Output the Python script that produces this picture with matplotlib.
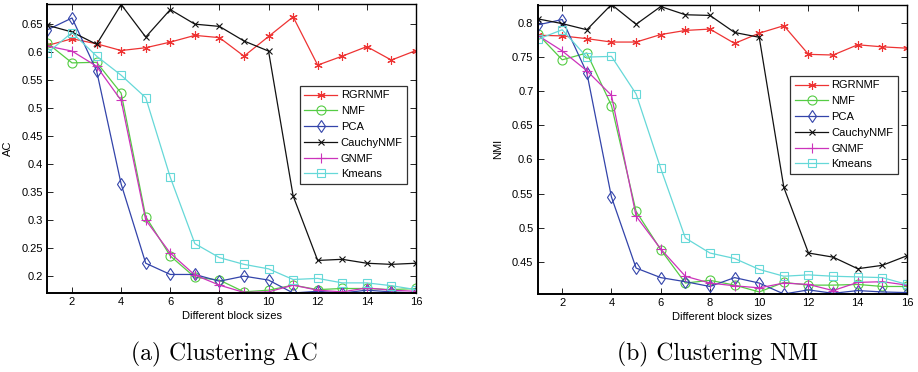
import numpy as np
import matplotlib
matplotlib.use("Agg")
import matplotlib.pyplot as plt

# block sizes on x axis
block_sizes = np.arange(1, 17)

method_names = ["RGRNMF", "NMF", "PCA", "CauchyNMF", "GNMF", "Kmeans"]

# clustering accuracy (AC)
ac_rgrnmf = [0.611, 0.623, 0.614, 0.602, 0.607, 0.617, 0.629, 0.625, 0.592, 0.627, 0.662, 0.576, 0.592, 0.609, 0.585, 0.602]
ac_nmf = [0.615, 0.580, 0.581, 0.526, 0.306, 0.236, 0.198, 0.193, 0.172, 0.175, 0.184, 0.176, 0.178, 0.178, 0.176, 0.178]
ac_pca = [0.639, 0.660, 0.566, 0.364, 0.223, 0.203, 0.203, 0.191, 0.200, 0.193, 0.170, 0.173, 0.170, 0.175, 0.172, 0.170]
ac_cauchy = [0.647, 0.635, 0.613, 0.684, 0.626, 0.675, 0.649, 0.645, 0.619, 0.601, 0.343, 0.228, 0.230, 0.223, 0.221, 0.223]
ac_gnmf = [0.610, 0.601, 0.574, 0.513, 0.300, 0.241, 0.202, 0.184, 0.171, 0.172, 0.184, 0.175, 0.172, 0.179, 0.175, 0.173]
ac_kmeans = [0.598, 0.634, 0.592, 0.558, 0.518, 0.376, 0.258, 0.233, 0.221, 0.213, 0.194, 0.196, 0.188, 0.188, 0.183, 0.176]

# normalized mutual information (NMI)
nmi_rgrnmf = [0.782, 0.781, 0.777, 0.772, 0.772, 0.783, 0.789, 0.791, 0.770, 0.785, 0.796, 0.754, 0.753, 0.768, 0.765, 0.763]
nmi_nmf = [0.784, 0.746, 0.756, 0.679, 0.524, 0.468, 0.419, 0.423, 0.416, 0.406, 0.420, 0.416, 0.416, 0.417, 0.414, 0.414]
nmi_pca = [0.797, 0.805, 0.727, 0.545, 0.441, 0.427, 0.421, 0.414, 0.427, 0.419, 0.403, 0.409, 0.404, 0.408, 0.406, 0.405]
nmi_cauchy = [0.806, 0.799, 0.790, 0.827, 0.798, 0.824, 0.812, 0.811, 0.786, 0.779, 0.559, 0.463, 0.457, 0.440, 0.445, 0.459]
nmi_gnmf = [0.782, 0.759, 0.730, 0.694, 0.517, 0.469, 0.429, 0.419, 0.415, 0.412, 0.419, 0.417, 0.408, 0.420, 0.421, 0.416]
nmi_kmeans = [0.776, 0.790, 0.750, 0.751, 0.696, 0.587, 0.485, 0.463, 0.455, 0.439, 0.429, 0.431, 0.429, 0.428, 0.427, 0.417]

xtick_vals = [2, 4, 6, 8, 10, 12, 14, 16]
ac_ticks = [0.2, 0.25, 0.3, 0.35, 0.4, 0.45, 0.5, 0.55, 0.6, 0.65]
ac_ticklabels = ["0.2", "0.25", "0.3", "0.35", "0.4", "0.45", "0.5", "0.55", "0.6", "0.65"]
nmi_ticks = [0.45, 0.5, 0.55, 0.6, 0.65, 0.7, 0.75, 0.8]
nmi_ticklabels = ["0.45", "0.5", "0.55", "0.6", "0.65", "0.7", "0.75", "0.8"]

#STYLES FOR EACH METHOD
colors = ["#ee3333", "#55cc44", "#3344aa", "#111111", "#cc33bb", "#66d8d8"]
markers = [(6, 2, 0), "o", "d", "x", "+", "s"]
msizes = [6, 6.5, 6.5, 4.5, 7, 5.5]

plt.rcParams["font.family"] = ["Liberation Sans", "DejaVu Sans"]

fig = plt.figure(figsize=(9.18, 3.72), dpi=100)
ax1 = fig.add_axes([0.0517, 0.2124, 0.4014, 0.777])
ax2 = fig.add_axes([0.5856, 0.2097, 0.4024, 0.7782])


def draw_panel(ax, series, yticks, yticklabels, ylim, ylabel, legend_anchor):
    for name, vals, c, m, ms in zip(method_names, series, colors, markers, msizes):
        ax.plot(block_sizes, vals, color=c, marker=m, markersize=ms,
                markerfacecolor="none", markeredgecolor=c, markeredgewidth=0.8,
                linewidth=0.9, label=name)
    ax.set_xlim(1, 16)
    ax.set_ylim(*ylim)
    ax.set_xticks(xtick_vals)
    ax.set_yticks(yticks)
    ax.set_yticklabels(yticklabels)
    ax.tick_params(direction="in", top=True, right=True, length=4,
                   width=0.6, labelsize=8, pad=3)
    for sp in ax.spines.values():
        sp.set_linewidth(1.0)
    ax.spines["left"].set_linewidth(1.4)
    ax.spines["bottom"].set_linewidth(1.4)
    ax.set_xlabel("Different block sizes", fontsize=8, labelpad=3)
    ax.set_ylabel(ylabel, fontsize=8, labelpad=6)
    leg = ax.legend(loc="upper right", bbox_to_anchor=legend_anchor,
                    fontsize=8, frameon=True, fancybox=False,
                    edgecolor="black", handlelength=3.0, handletextpad=0.3,
                    labelspacing=0.52, borderpad=0.4, borderaxespad=0.0)
    leg.get_frame().set_linewidth(0.9)


draw_panel(ax1, [ac_rgrnmf, ac_nmf, ac_pca, ac_cauchy, ac_gnmf, ac_kmeans],
           ac_ticks, ac_ticklabels, (0.17, 0.685), "AC", (0.976, 0.716))
draw_panel(ax2, [nmi_rgrnmf, nmi_nmf, nmi_pca, nmi_cauchy, nmi_gnmf, nmi_kmeans],
           nmi_ticks, nmi_ticklabels, (0.403, 0.827), "NMI", (0.9756, 0.753))

# CAPTIONS UNDER EACH PANEL
fig.text(0.244, 0.046, "(a) Clustering AC", fontsize=17, family="cmr10",
         ha="center", va="center")
fig.text(0.782, 0.046, "(b) Clustering NMI", fontsize=17, family="cmr10",
         ha="center", va="center")

plt.savefig("out.png", dpi=100)
